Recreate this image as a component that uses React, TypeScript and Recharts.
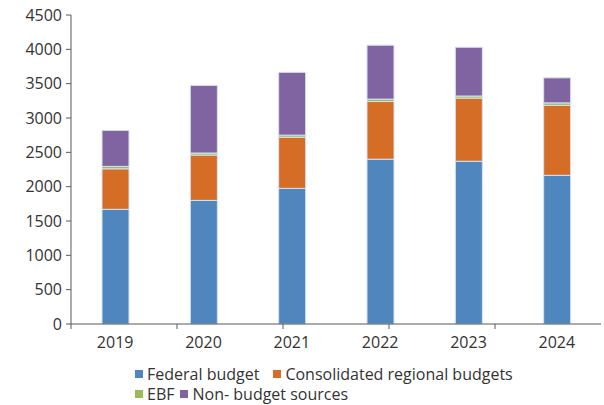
import React from 'react';
import { BarChart, Bar, XAxis, YAxis, Legend } from 'recharts';

const years = ['2019', '2020', '2021', '2022', '2023', '2024'];
const federal = [1670, 1800, 1975, 2400, 2370, 2165];
const regional = [590, 660, 745, 840, 920, 1020];
const ebf = [35, 30, 30, 35, 30, 35];
const nonBudget = [525, 985, 915, 785, 710, 365];

const yTicks = [0, 500, 1000, 1500, 2000, 2500, 3000, 3500, 4000, 4500];
const boundaryTicks = [0, 1, 2, 3, 4, 5, 6];

const seriesKeys = ['federal', 'regional', 'ebf', 'nonBudget'];
const seriesNames = ['Federal budget', 'Consolidated regional budgets', 'EBF', 'Non- budget sources'];
const seriesColors = ['#4f86bd', '#d56d27', '#9bbb59', '#8064a2'];
const legendRows = [[0, 1], [2, 3]];

const data = years.map((year, i) => ({
  year,
  federal: federal[i],
  regional: regional[i],
  ebf: ebf[i],
  nonBudget: nonBudget[i],
}));

const FONT = '"Open Sans", sans-serif';
const AXIS = '#595959';
const TEXT = '#333333';

const LegendContent = () => (
  <div style={{ fontFamily: FONT, fontSize: 16, color: TEXT, lineHeight: '20px' }}>
    {legendRows.map((row, r) => (
      <div key={r} style={{ display: 'flex', alignItems: 'center', gap: r === 0 ? 14 : 6 }}>
        {row.map((idx) => (
          <div key={idx} style={{ display: 'flex', alignItems: 'center' }}>
            <span
              style={{
                display: 'inline-block',
                width: 8,
                height: 8,
                background: seriesColors[idx],
                marginRight: 4,
              }}
            />
            <span>{seriesNames[idx]}</span>
          </div>
        ))}
      </div>
    ))}
  </div>
);

export default function App() {
  return (
    <div style={{ position: 'absolute', left: 0, top: 0, background: '#fff' }}>
      <BarChart
        width={604}
        height={405}
        data={data}
        margin={{ top: 15, right: 3, left: 0, bottom: 0 }}
      >
        <XAxis
          xAxisId="zcat"
          dataKey="year"
          axisLine={false}
          tickLine={false}
          tickSize={5}
          tickMargin={2}
          height={25}
          tick={{ fill: TEXT, fontSize: 16, fontFamily: FONT }}
        />
        <XAxis
          xAxisId="agrid"
          type="number"
          domain={[0, 6]}
          ticks={boundaryTicks}
          allowDataOverflow
          tickFormatter={() => ''}
          tickSize={5}
          height={6}
          axisLine={{ stroke: AXIS }}
          tickLine={{ stroke: AXIS }}
        />
        <YAxis
          domain={[0, 4500]}
          ticks={yTicks}
          width={71}
          tickSize={5}
          tickMargin={4}
          axisLine={{ stroke: AXIS }}
          tickLine={{ stroke: AXIS }}
          tick={{ fill: TEXT, fontSize: 16, fontFamily: FONT }}
        />
        <Legend
          verticalAlign="bottom"
          height={50}
          content={<LegendContent />}
          wrapperStyle={{ left: 135, top: 364, width: 460 }}
        />
        {seriesKeys.map((k, i) => (
          <Bar
            key={k}
            dataKey={k}
            name={seriesNames[i]}
            stackId="a"
            xAxisId="zcat"
            fill={seriesColors[i]}
            stroke="#d6e2f0"
            strokeWidth={1}
            barSize={27}
            isAnimationActive={false}
          />
        ))}
      </BarChart>
    </div>
  );
}
